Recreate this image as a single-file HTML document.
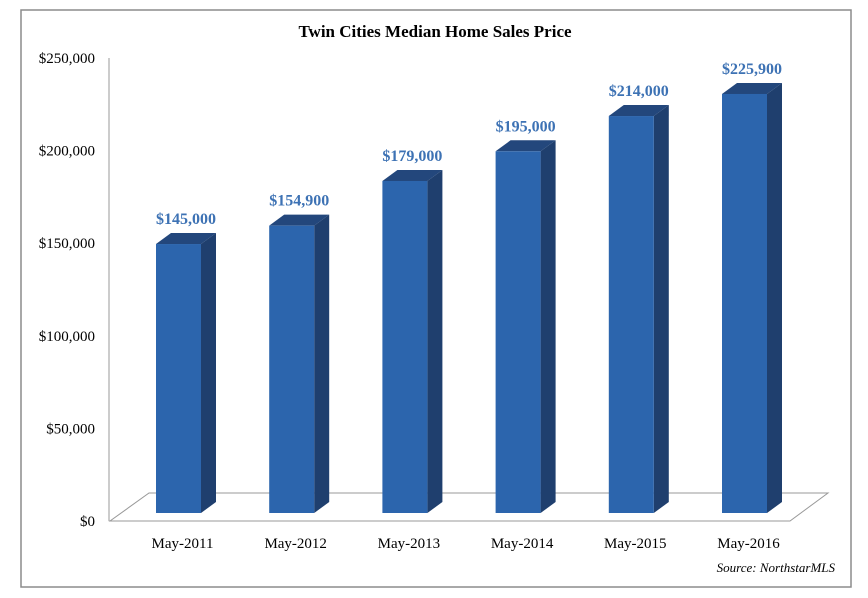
<!DOCTYPE html>
<html><head><meta charset="utf-8"><style>
body{margin:0;background:#fff;}
svg{display:block;font-family:"Liberation Serif",serif;}
</style></head><body>
<svg width="868" height="598">
<rect x="21" y="10" width="830" height="577" fill="#fff" stroke="#8c8c8c" stroke-width="1.5"/>
<text x="435" y="37" text-anchor="middle" font-weight="bold" font-size="17">Twin Cities Median Home Sales Price</text>
<line x1="109" y1="58" x2="109" y2="521" stroke="#999"/>
<polygon points="110,521 790,521 828,493 149,493" fill="none" stroke="#999"/>
<g id="yt"></g><g id="bars"></g>
<text x="835" y="572" text-anchor="end" font-style="italic" font-size="13">Source: NorthstarMLS</text>
</svg>
<script>
const categories=["May-2011","May-2012","May-2013","May-2014","May-2015","May-2016"];
const values=[145000,154900,179000,195000,214000,225900];
const valueLabels=["$145,000","$154,900","$179,000","$195,000","$214,000","$225,900"];
const tickValues=[0,50000,100000,150000,200000,250000];
const tickLabels=["$0","$50,000","$100,000","$150,000","$200,000","$250,000"];
const NS="http://www.w3.org/2000/svg";
function mk(t,a,p){const e=document.createElementNS(NS,t);for(const k in a)e.setAttribute(k,a[k]);p.appendChild(e);return e;}
const yTick=v=>521-v/250000*463;
const yBar=v=>513-v*0.001855;
const xBar=i=>156+i*113.2;
const yt=document.getElementById('yt');
tickValues.forEach((v,i)=>{const t=mk('text',{x:95,y:yTick(v)+5,'text-anchor':'end','font-size':15},yt);t.textContent=tickLabels[i];

});
const g=document.getElementById('bars');
const W=45,DX=15,DY=11;
values.forEach((v,i)=>{const x=xBar(i),top=yBar(v),b=513;
const grp=mk('g',{},g);


mk('polygon',{points:`${x+W},${top} ${x+W+DX},${top-DY} ${x+W+DX},${b-DY} ${x+W},${b}`,fill:'#1f3f6e'},grp);
mk('polygon',{points:`${x},${top} ${x+DX},${top-DY} ${x+W+DX},${top-DY} ${x+W},${top}`,fill:'#23477c'},grp);
mk('rect',{x:x,y:top,width:W,height:b-top,fill:'#2c65ad'},grp);
const l=mk('text',{x:x+(W+DX)/2,y:top-20,'text-anchor':'middle','font-size':16,'font-weight':'bold',fill:'#3d72b4'},g);l.textContent=valueLabels[i];


const c=mk('text',{x:x+W/2+4,y:548,'text-anchor':'middle','font-size':15},g);c.textContent=categories[i];


});
</script>
</body></html>
